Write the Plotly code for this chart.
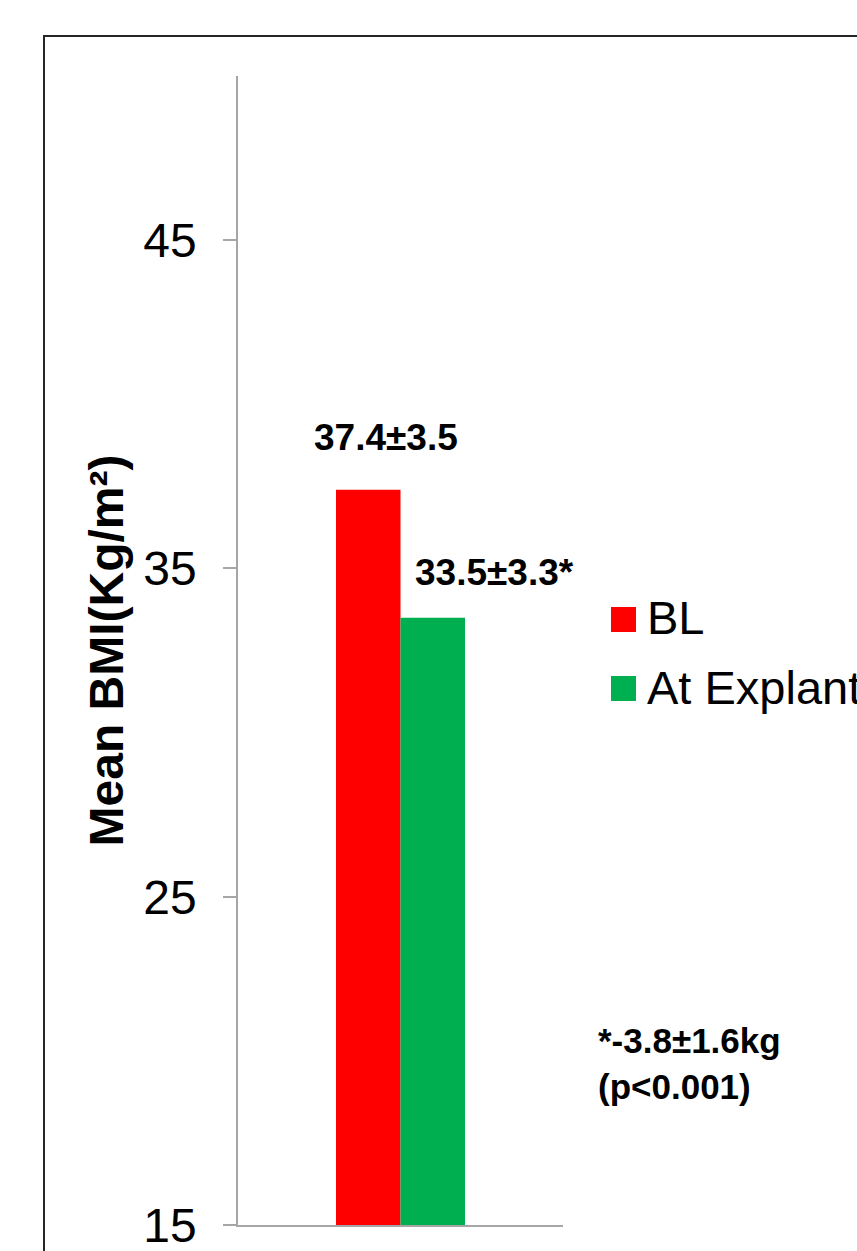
import plotly.graph_objects as go

# Data
groups = ["Mean BMI"]
series_names = ["BL", "At Explant"]
series_values = [[37.4], [33.5]]
series_sd = [3.5, 3.3]
series_marks = ["", "*"]
series_colors = ["#FF0000", "#00B050"]
change_text = "*-3.8±1.6kg"
p_text = "(p<0.001)"
y_ticks = [15, 25, 35, 45]

FONT = "Arial, 'Liberation Sans', sans-serif"
AXIS_GRAY = "#a6a6a6"

W, H = 857, 1251
M_L, M_R, M_T, M_B = 238, 294, 76, 26
PW = W - M_L - M_R
PH = H - M_T - M_B


def px_x(px):
    return (px - M_L) / PW


def px_y(py):
    return (H - M_B - py) / PH


fig = go.Figure()
for name, vals, color in zip(series_names, series_values, series_colors):
    fig.add_trace(go.Bar(
        x=groups, y=vals, name=name,
        marker=dict(color=color, line=dict(width=0)),
        showlegend=False,
    ))

# value labels above the bars
label_shift = [(-89, 30), (12, 23)]
for vals, sd, mark, (dx, dy) in zip(series_values, series_sd, series_marks, label_shift):
    fig.add_annotation(
        x=groups[0], y=vals[0], xref="x", yref="y",
        text=f"<b>{vals[0]:.1f}±{sd:.1f}{mark}</b>",
        showarrow=False, xanchor="left", yanchor="bottom",
        xshift=dx, yshift=dy,
        font=dict(family=FONT, size=37, color="black"),
    )

# significance note
fig.add_annotation(
    x=px_x(596), y=px_y(1063), xref="paper", yref="paper",
    text=f"<b>{change_text}<br>{p_text}</b>", align="left",
    showarrow=False, xanchor="left", yanchor="middle",
    font=dict(family=FONT, size=35, color="black"),
)

# legend: colour squares and series names
legend_rows = [(607, 617), (676, 687)]
for name, color, (sq_top, txt_mid) in zip(series_names, series_colors, legend_rows):
    fig.add_shape(
        type="rect", xref="paper", yref="paper",
        x0=px_x(611), x1=px_x(636), y0=px_y(sq_top + 25), y1=px_y(sq_top),
        fillcolor=color, line=dict(width=0),
    )
    fig.add_annotation(
        x=px_x(645), y=px_y(txt_mid), xref="paper", yref="paper",
        text=name, showarrow=False, xanchor="left", yanchor="middle",
        font=dict(family=FONT, size=47, color="black"),
    )

# outer frame
fig.add_shape(
    type="rect", xref="paper", yref="paper",
    x0=px_x(44), x1=px_x(W + 50), y0=px_y(H + 50), y1=px_y(36),
    line=dict(color="#262626", width=2), fillcolor="rgba(0,0,0,0)",
    layer="below",
)

fig.update_layout(
    width=W, height=H,
    margin=dict(l=M_L, r=M_R, t=M_T, b=M_B, pad=0, autoexpand=False),
    paper_bgcolor="white", plot_bgcolor="white",
    barmode="group", bargap=0.603, bargroupgap=0,
    font=dict(family=FONT, color="black"),
    showlegend=False,
)
fig.update_xaxes(
    range=[-0.5, 0.5], automargin=False,
    showline=True, linecolor=AXIS_GRAY, linewidth=1.5,
    showticklabels=False, ticks="", showgrid=False, zeroline=False,
)
fig.update_yaxes(
    range=[15, 50], tickvals=y_ticks, ticktext=[str(t) for t in y_ticks],
    automargin=False,
    showline=True, linecolor=AXIS_GRAY, linewidth=1.5,
    ticks="outside", ticklen=13, tickwidth=1.5, tickcolor=AXIS_GRAY,
    ticklabelstandoff=17, ticklabeloverflow="allow",
    tickfont=dict(family=FONT, size=48, color="black"),
    showgrid=False, zeroline=False,
    title=dict(text="<b>Mean BMI(Kg/m²)</b>", standoff=4,
               font=dict(family=FONT, size=48, color="black")),
)

fig.write_html("out.html")
